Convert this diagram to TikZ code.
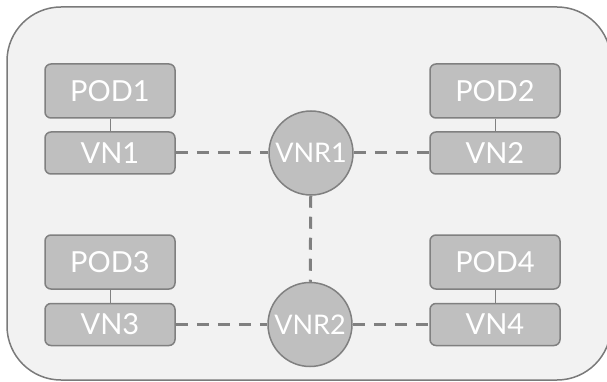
\documentclass[tikz,border=0pt]{standalone}
\usepackage{fontspec}
\setmainfont{Lato}
\definecolor{panelfill}{HTML}{F2F2F2}
\definecolor{panelline}{HTML}{7A7A7A}
\definecolor{boxfill}{HTML}{BFBFBF}
\definecolor{boxline}{HTML}{808080}
\begin{document}
\begin{tikzpicture}[x=1pt,y=-1pt,
  label font/.style={font=\fontsize{29}{32}\selectfont},
  podbox/.style={draw=boxline, fill=boxfill, line width=1.5pt, rounded corners=6pt,
    minimum width=130pt, minimum height=54pt, inner sep=0pt, text=white, label font},
  vnbox/.style={podbox, minimum height=42pt},
  router/.style={circle, draw=boxline, fill=boxfill, line width=1.5pt,
    minimum size=84pt, inner sep=0pt, text=white, font=\fontsize{27}{30}\selectfont},
  attach/.style={draw=boxline, line width=1pt},
  link/.style={draw=boxline, line width=3pt, dash pattern=on 12pt off 9pt}]
  \useasboundingbox (0,0) rectangle (607,382);
  \clip (0,0) rectangle (607,382);
  % host panel
  \draw[draw=panelline, fill=panelfill, line width=1.5pt, rounded corners=54pt]
    (7,7) rectangle (611,380);
  % pods and their virtual NICs
  \node[podbox] (pod1) at (110,91) {POD1};
  \node[vnbox]  (vn1)  at (110,153) {VN1};
  \node[podbox] (pod2) at (495,91) {POD2};
  \node[vnbox]  (vn2)  at (495,153) {VN2};
  \node[podbox] (pod3) at (110,262) {POD3};
  \node[vnbox]  (vn3)  at (110,324.5) {VN3};
  \node[podbox] (pod4) at (495,262) {POD4};
  \node[vnbox]  (vn4)  at (495,324.5) {VN4};
  % routers
  \node[router] (vnr1) at (311,153) {VNR1};
  \node[router] (vnr2) at (310,324.5) {VNR2};
  % pod to NIC attachments
  \draw[attach] (pod1) -- (vn1);
  \draw[attach] (pod2) -- (vn2);
  \draw[attach] (pod3) -- (vn3);
  \draw[attach] (pod4) -- (vn4);
  % virtual links
  \draw[link] (vn1) -- (vnr1);
  \draw[link] (vnr1) -- (vn2);
  \draw[link] (vnr1) -- (vnr2);
  \draw[link] (vn3) -- (vnr2);
  \draw[link] (vnr2) -- (vn4);
\end{tikzpicture}
\end{document}
